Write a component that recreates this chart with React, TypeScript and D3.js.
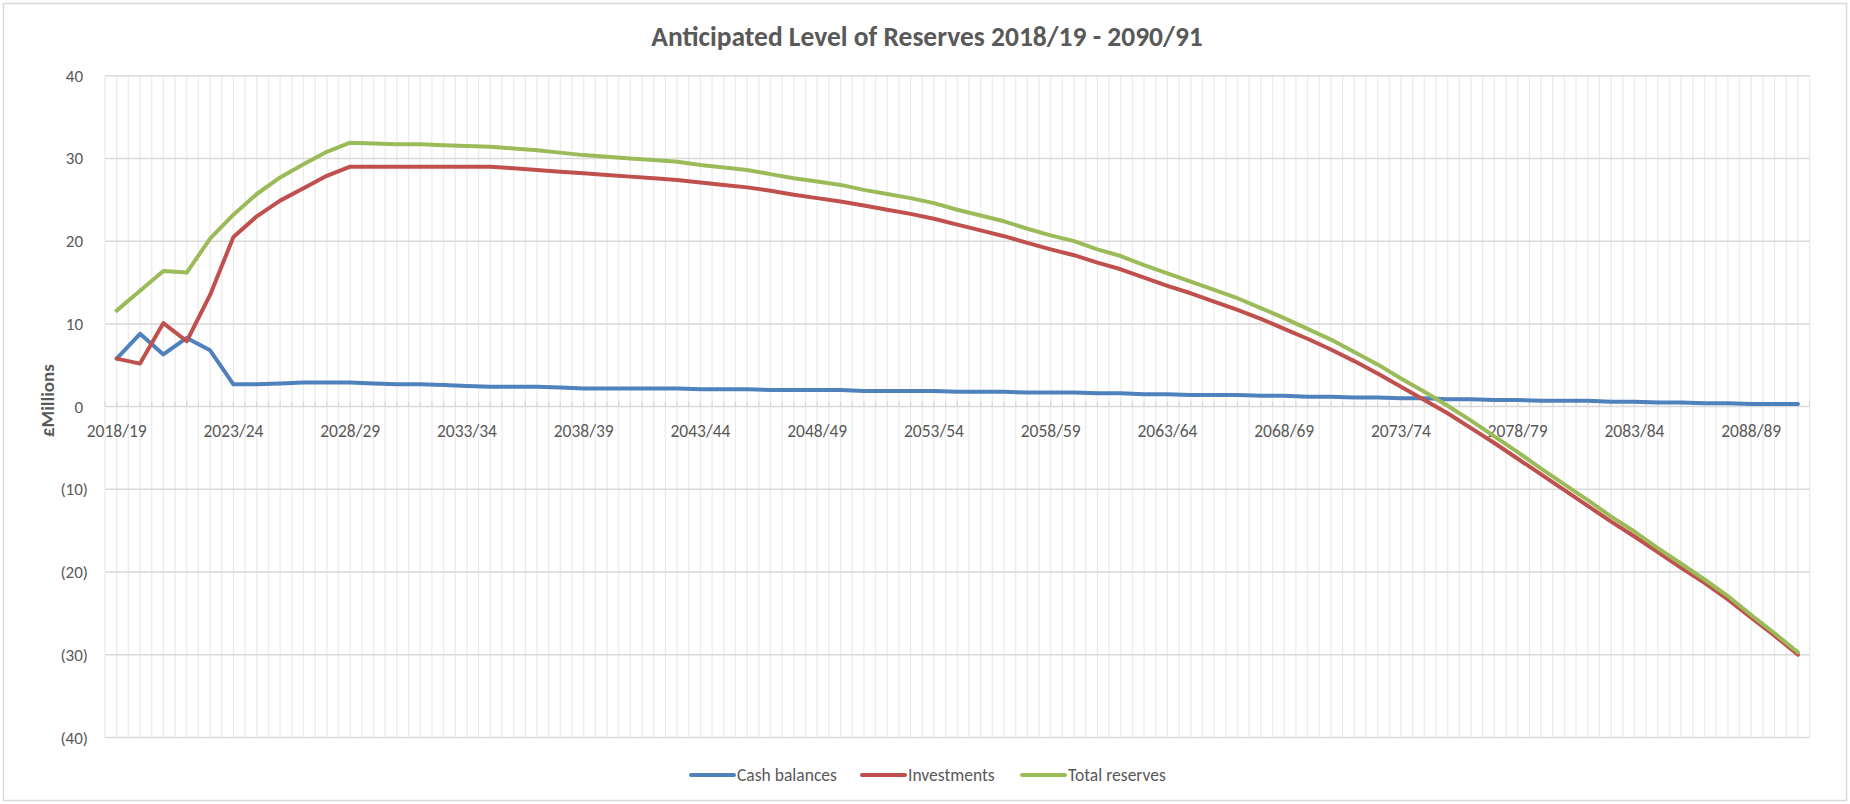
import React from 'react';
import * as d3 from 'd3';

const categories: string[] = [
  '2018/19', '2019/20', '2020/21', '2021/22', '2022/23', '2023/24', '2024/25', '2025/26', '2026/27', '2027/28',
  '2028/29', '2029/30', '2030/31', '2031/32', '2032/33', '2033/34', '2034/35', '2035/36', '2036/37', '2037/38',
  '2038/39', '2039/40', '2040/41', '2041/42', '2042/43', '2043/44', '2044/45', '2045/46', '2046/47', '2047/48',
  '2048/49', '2049/50', '2050/51', '2051/52', '2052/53', '2053/54', '2054/55', '2055/56', '2056/57', '2057/58',
  '2058/59', '2059/60', '2060/61', '2061/62', '2062/63', '2063/64', '2064/65', '2065/66', '2066/67', '2067/68',
  '2068/69', '2069/70', '2070/71', '2071/72', '2072/73', '2073/74', '2074/75', '2075/76', '2076/77', '2077/78',
  '2078/79', '2079/80', '2080/81', '2081/82', '2082/83', '2083/84', '2084/85', '2085/86', '2086/87', '2087/88',
  '2088/89', '2089/90', '2090/91',
];

const xTickLabels: string[] = [
  '2018/19', '2023/24', '2028/29', '2033/34', '2038/39', '2043/44', '2048/49', '2053/54',
  '2058/59', '2063/64', '2068/69', '2073/74', '2078/79', '2083/84', '2088/89',
];

const yTickValues: number[] = [40, 30, 20, 10, 0, -10, -20, -30, -40];
const yTickLabels: string[] = ['40', '30', '20', '10', '0', '(10)', '(20)', '(30)', '(40)'];

const cashBalances: number[] = [
  5.8, 8.8, 6.3, 8.3, 6.8, 2.7, 2.7, 2.8, 2.9, 2.9,
  2.9, 2.8, 2.7, 2.7, 2.6, 2.5, 2.4, 2.4, 2.4, 2.3,
  2.2, 2.2, 2.2, 2.2, 2.2, 2.1, 2.1, 2.1, 2.0, 2.0,
  2.0, 2.0, 1.9, 1.9, 1.9, 1.9, 1.8, 1.8, 1.8, 1.7,
  1.7, 1.7, 1.6, 1.6, 1.5, 1.5, 1.4, 1.4, 1.4, 1.3,
  1.3, 1.2, 1.2, 1.1, 1.1, 1.0, 1.0, 0.9, 0.9, 0.8,
  0.8, 0.7, 0.7, 0.7, 0.6, 0.6, 0.5, 0.5, 0.4, 0.4,
  0.3, 0.3, 0.3,
];

const investments: number[] = [
  5.8, 5.2, 10.1, 7.9, 13.5, 20.5, 23.0, 24.9, 26.4, 27.9,
  29.0, 29.0, 29.0, 29.0, 29.0, 29.0, 29.0, 28.8, 28.6, 28.4,
  28.2, 28.0, 27.8, 27.6, 27.4, 27.1, 26.8, 26.5, 26.1, 25.6,
  25.2, 24.8, 24.3, 23.8, 23.3, 22.7, 22.0, 21.3, 20.6, 19.8,
  19.0, 18.3, 17.4, 16.6, 15.6, 14.6, 13.7, 12.7, 11.7, 10.6,
  9.4, 8.2, 6.9, 5.5, 4.0, 2.4, 0.8, -0.8, -2.6, -4.4,
  -6.3, -8.2, -10.1, -12.0, -13.9, -15.7, -17.6, -19.5, -21.3, -23.3,
  -25.5, -27.7, -30.0,
];

const totalReserves: number[] = [
  11.6, 14.0, 16.4, 16.2, 20.3, 23.2, 25.7, 27.7, 29.3, 30.8,
  31.9, 31.8, 31.7, 31.7, 31.6, 31.5, 31.4, 31.2, 31.0, 30.7,
  30.4, 30.2, 30.0, 29.8, 29.6, 29.2, 28.9, 28.6, 28.1, 27.6,
  27.2, 26.8, 26.2, 25.7, 25.2, 24.6, 23.8, 23.1, 22.4, 21.5,
  20.7, 20.0, 19.0, 18.2, 17.1, 16.1, 15.1, 14.1, 13.1, 11.9,
  10.7, 9.4, 8.1, 6.6, 5.1, 3.4, 1.8, 0.1, -1.7, -3.6,
  -5.5, -7.5, -9.4, -11.3, -13.3, -15.1, -17.1, -19.0, -20.9, -22.9,
  -25.2, -27.4, -29.7,
];

const seriesNames: string[] = ['Cash balances', 'Investments', 'Total reserves'];
const seriesColors: string[] = ['#4f81bd', '#c0504d', '#9bbb59'];
const seriesData: number[][] = [cashBalances, investments, totalReserves];

const W = 1850;
const H = 804;
const plotLeft = 105;
const plotRight = 1809.6;
const plotTop = 75.7;
const plotBottom = 737.5;
const FONT = "Carlito, Calibri, Lato, 'Open Sans', sans-serif";
const TEXT = '#595959';

export default function App() {
  const x = d3.scaleBand<string>().domain(categories).range([plotLeft, plotRight]).padding(0);
  const bw = x.bandwidth();
  const cx = (c: string) => (x(c) as number) + bw / 2;
  const y = d3.scaleLinear().domain([-40, 40]).range([plotBottom, plotTop]);

  const line = d3
    .line<number>()
    .x((_, i) => cx(categories[i]))
    .y((d) => y(d));

  // vertical gridlines at every category boundary and centre
  const vLines: number[] = [];
  categories.forEach((c) => {
    vLines.push(x(c) as number);
    vLines.push(cx(c));
  });
  vLines.push(plotRight);

  const legendItems = [
    { name: seriesNames[0], color: seriesColors[0], x0: 691 },
    { name: seriesNames[1], color: seriesColors[1], x0: 862 },
    { name: seriesNames[2], color: seriesColors[2], x0: 1022 },
  ];
  const legendY = 775;

  return (
    <svg
      width={W}
      height={H}
      style={{ position: 'absolute', left: 0, top: 0, background: '#ffffff' }}
      fontFamily={FONT}
    >
      <rect x={0} y={0} width={W} height={H} fill="#ffffff" />
      <rect x={3.5} y={3.5} width={W - 7} height={H - 7} fill="none" stroke="#d9d9d9" strokeWidth={1.5} />

      {/* title */}
      <text x={927} y={46} textAnchor="middle" fontSize={27.5} fontWeight="bold" fill={TEXT}>
        Anticipated Level of Reserves 2018/19 - 2090/91
      </text>

      {/* vertical gridlines */}
      <g stroke="#ebebeb" strokeWidth={1.3}>
        {vLines.map((vx, i) => (
          <line key={'v' + i} x1={vx} x2={vx} y1={plotTop} y2={plotBottom} />
        ))}
      </g>

      {/* horizontal gridlines */}
      <g stroke="#d9d9d9" strokeWidth={1.5}>
        {yTickValues.map((v) => (
          <line key={'h' + v} x1={plotLeft} x2={plotRight} y1={y(v)} y2={y(v)} />
        ))}
      </g>

      {/* axis tick marks on zero line */}
      <g stroke="#d9d9d9" strokeWidth={1.3}>
        {vLines.map((vx, i) => (
          <line key={'t' + i} x1={vx} x2={vx} y1={y(0) - 5} y2={y(0)} />
        ))}
      </g>

      {/* y tick labels */}
      <g fontSize={17} fill={TEXT}>
        {yTickValues.map((v, i) => (
          <text key={'yl' + v} x={v < 0 ? 88 : 83} y={y(v) + 6} textAnchor="end">
            {yTickLabels[i]}
          </text>
        ))}
      </g>

      {/* x tick labels */}
      <g fontSize={17.5} fill={TEXT}>
        {xTickLabels.map((c) => (
          <text key={'xl' + c} x={cx(c)} y={436.5} textAnchor="middle">
            {c}
          </text>
        ))}
      </g>

      {/* y axis title */}
      <text
        transform={`translate(47, ${(plotTop + plotBottom) / 2 - 6}) rotate(-90)`}
        textAnchor="middle"
        dominantBaseline="central"
        fontSize={19}
        fontWeight="bold"
        fill={TEXT}
      >
        £Millions
      </text>

      {/* series */}
      {seriesData.map((data, si) => (
        <path
          key={'s' + si}
          d={line(data) as string}
          fill="none"
          stroke={seriesColors[si]}
          strokeWidth={4}
          strokeLinejoin="round"
          strokeLinecap="round"
        />
      ))}

      {/* legend */}
      {legendItems.map((it) => (
        <g key={'lg' + it.name}>
          <line
            x1={it.x0}
            x2={it.x0 + 43}
            y1={legendY}
            y2={legendY}
            stroke={it.color}
            strokeWidth={4}
            strokeLinecap="round"
          />
          <text x={it.x0 + 46} y={legendY + 6} fontSize={17.5} fill={TEXT}>
            {it.name}
          </text>
        </g>
      ))}
    </svg>
  );
}
